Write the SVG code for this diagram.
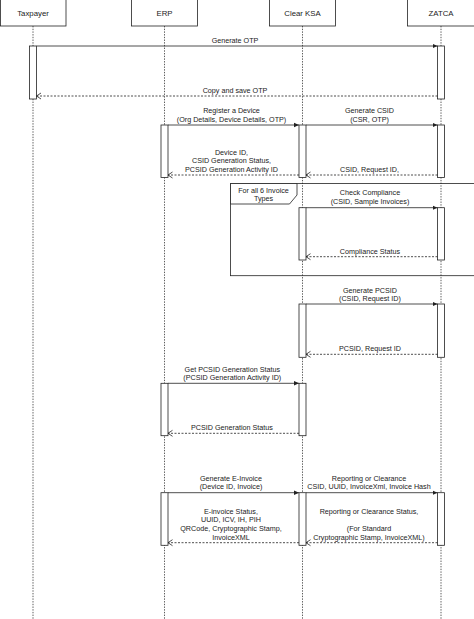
<svg xmlns="http://www.w3.org/2000/svg" width="474" height="619" viewBox="0 0 474 619">
<style>
.box{fill:#fff;stroke:#222;stroke-width:0.8}
.life{stroke:#333;stroke-width:0.8;stroke-dasharray:1.4 1.3;fill:none}
.act{fill:#fff;stroke:#222;stroke-width:0.8}
.msg{stroke:#222;stroke-width:0.8;fill:none}
.ret{stroke:#222;stroke-width:0.8;stroke-dasharray:2 1.5;fill:none}
.frame{fill:none;stroke:#222;stroke-width:0.8}
.tab{fill:#fff;stroke:#222;stroke-width:0.8}
text{font-family:"Liberation Sans",Arial,sans-serif;font-size:7.2px;fill:#222;text-anchor:middle}
.hdr{font-size:7.8px}
</style>
<defs>
<marker id="block" markerUnits="userSpaceOnUse" markerWidth="6" markerHeight="6" refX="5" refY="3" orient="auto"><path d="M0,0.7 L5,3 L0,5.3 z" fill="#222"/></marker>
<marker id="open" markerUnits="userSpaceOnUse" markerWidth="7" markerHeight="8" refX="5" refY="4" orient="auto"><path d="M0.5,1 L5,4 L0.5,7" fill="none" stroke="#222" stroke-width="0.8"/></marker>
</defs>

<g id="lifelines">
<line class="life" x1="33" y1="26" x2="33" y2="619"/>
<line class="life" x1="164.5" y1="26" x2="164.5" y2="619"/>
<line class="life" x1="302.5" y1="26" x2="302.5" y2="619"/>
<line class="life" x1="441" y1="26" x2="441" y2="619"/>
</g>

<g id="frame-invoice-types">
<rect class="frame" x="230.5" y="183.5" width="250" height="92.2"/>
<path class="tab" d="M230.5,183.5 L297,183.5 L297,195 L289.5,204 L230.5,204 Z"/>
<text x="263.5" y="192.5">For all 6 Invoice</text>
<text x="263.5" y="201.2">Types</text>
</g>

<g id="node-taxpayer">
<rect class="box" x="0.5" y="-1" width="65.5" height="27"/>
<text class="hdr" x="33" y="15.7">Taxpayer</text>
<rect class="act" x="29.5" y="46" width="7" height="53"/>
</g>

<g id="node-erp">
<rect class="box" x="131.5" y="-1" width="66" height="27"/>
<text class="hdr" x="164.5" y="15.7">ERP</text>
<rect class="act" x="161" y="125" width="7" height="52.5"/>
<rect class="act" x="161" y="383.3" width="7" height="52.4"/>
<rect class="act" x="161" y="492.7" width="7" height="52.6"/>
</g>

<g id="node-clearksa">
<rect class="box" x="269.5" y="-1" width="66" height="27"/>
<text class="hdr" x="302.5" y="15.7">Clear KSA</text>
<rect class="act" x="299" y="125" width="7" height="52.5"/>
<rect class="act" x="299" y="207.7" width="7" height="52.3"/>
<rect class="act" x="299" y="304" width="7" height="53.3"/>
<rect class="act" x="299" y="383.3" width="7" height="52.4"/>
<rect class="act" x="299" y="492.7" width="7" height="52.6"/>
</g>

<g id="node-zatca">
<rect class="box" x="407.5" y="-1" width="67" height="27"/>
<text class="hdr" x="441" y="15.7">ZATCA</text>
<rect class="act" x="437.5" y="46" width="7" height="53"/>
<rect class="act" x="437.5" y="125" width="7" height="52.5"/>
<rect class="act" x="437.5" y="207.7" width="7" height="52.3"/>
<rect class="act" x="437.5" y="304" width="7" height="53.3"/>
<rect class="act" x="437.5" y="492.7" width="7" height="52.6"/>
</g>

<g id="connectors">
<line class="msg" x1="36.5" y1="46" x2="437.5" y2="46" marker-end="url(#block)"/>
<text x="235" y="42.5">Generate OTP</text>

<line class="ret" x1="437.5" y1="96" x2="36.5" y2="96" marker-end="url(#open)"/>
<text x="235" y="92.5">Copy and save OTP</text>

<line class="msg" x1="168" y1="125" x2="299" y2="125" marker-end="url(#block)"/>
<text x="231.5" y="113.2">Register a Device</text>
<text x="231.5" y="121.7">(Org Details, Device Details, OTP)</text>

<line class="msg" x1="306" y1="125" x2="437.5" y2="125" marker-end="url(#block)"/>
<text x="369.5" y="113.2">Generate CSID</text>
<text x="369.5" y="121.7">(CSR, OTP)</text>

<line class="ret" x1="437.5" y1="175" x2="306" y2="175" marker-end="url(#open)"/>
<text x="369.5" y="171.6">CSID, Request ID,</text>

<line class="ret" x1="299" y1="175" x2="168" y2="175" marker-end="url(#open)"/>
<text x="231.5" y="155.2">Device ID,</text>
<text x="231.5" y="163.4">CSID Generation Status,</text>
<text x="231.5" y="171.6">PCSID Generation Activity ID</text>

<line class="msg" x1="306" y1="207.7" x2="437.5" y2="207.7" marker-end="url(#block)"/>
<text x="370" y="195.2">Check Compliance</text>
<text x="370" y="204">(CSID, Sample Invoices)</text>

<line class="ret" x1="437.5" y1="256.7" x2="306" y2="256.7" marker-end="url(#open)"/>
<text x="370" y="254.2">Compliance Status</text>

<line class="msg" x1="306" y1="304" x2="437.5" y2="304" marker-end="url(#block)"/>
<text x="370" y="292.5">Generate PCSID</text>
<text x="370" y="301.3">(CSID, Request ID)</text>

<line class="ret" x1="437.5" y1="354.3" x2="306" y2="354.3" marker-end="url(#open)"/>
<text x="370" y="350.8">PCSID, Request ID</text>

<line class="msg" x1="168" y1="383.3" x2="299" y2="383.3" marker-end="url(#block)"/>
<text x="232.3" y="371.8">Get PCSID Generation Status</text>
<text x="232.3" y="380.2">(PCSID Generation Activity ID)</text>

<line class="ret" x1="299" y1="433.3" x2="168" y2="433.3" marker-end="url(#open)"/>
<text x="232" y="429.5">PCSID Generation Status</text>

<line class="msg" x1="168" y1="492.7" x2="299" y2="492.7" marker-end="url(#block)"/>
<text x="231" y="480.8">Generate E-Invoice</text>
<text x="231" y="489.4">(Device ID, Invoice)</text>

<line class="msg" x1="306" y1="492.7" x2="437.5" y2="492.7" marker-end="url(#block)"/>
<text x="369" y="480.8">Reporting or Clearance</text>
<text x="369" y="489.4">CSID, UUID, InvoiceXml, Invoice Hash</text>

<line class="ret" x1="437.5" y1="542.7" x2="306" y2="542.7" marker-end="url(#open)"/>
<text x="369" y="513.7">Reporting or Clearance Status,</text>
<text x="369" y="531.1">(For Standard</text>
<text x="369" y="539.8">Cryptographic Stamp, InvoiceXML)</text>

<line class="ret" x1="299" y1="542.7" x2="168" y2="542.7" marker-end="url(#open)"/>
<text x="231" y="513.7">E-invoice Status,</text>
<text x="231" y="522.4">UUID, ICV, IH, PIH</text>
<text x="231" y="531.1">QRCode, Cryptographic Stamp,</text>
<text x="231" y="539.8">InvoiceXML</text>
</g>
</svg>
